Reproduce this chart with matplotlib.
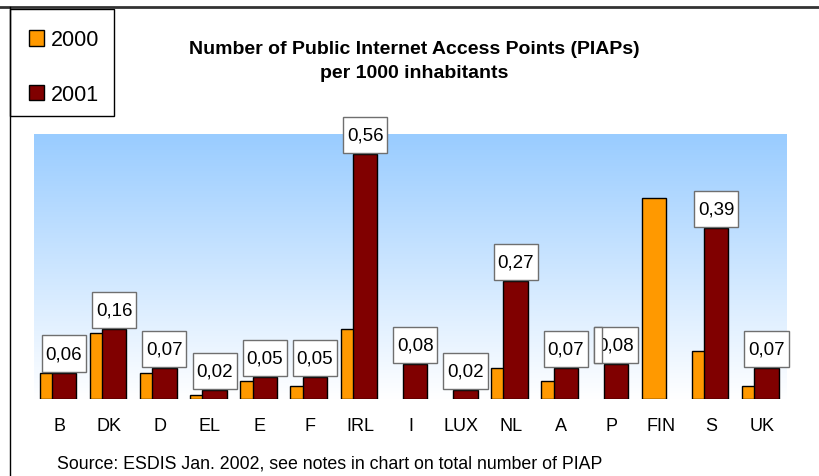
import matplotlib
matplotlib.use("Agg")
import matplotlib.pyplot as plt
import numpy as np
from matplotlib.colors import LinearSegmentedColormap
from matplotlib.lines import Line2D
from matplotlib.patches import Rectangle, Patch
from matplotlib.path import Path

plt.rcParams['font.family'] = ['Liberation Sans', 'DejaVu Sans']

categories = ['B', 'DK', 'D', 'EL', 'E', 'F', 'IRL', 'I', 'LUX', 'NL', 'A', 'P', 'FIN', 'S', 'UK']
values_2000 = [0.06, 0.15, 0.06, 0.01, 0.04, 0.03, 0.16, 0.0, 0.0, 0.07, 0.04, 0.0, 0.46, 0.11, 0.03]
values_2001 = [0.06, 0.16, 0.07, 0.02, 0.05, 0.05, 0.56, 0.08, 0.02, 0.27, 0.07, 0.08, 0.0, 0.39, 0.07]
series_names = ['2000', '2001']
title_lines = ['Number of Public Internet Access Points (PIAPs)', 'per 1000 inhabitants']
source_text = 'Source: ESDIS Jan. 2002, see notes in chart on total number of PIAP'

c2000 = '#FF9900'
c2001 = '#800000'

W, H = 820, 477
fig = plt.figure(figsize=(W / 100, H / 100), dpi=100)
ax = fig.add_axes([34.2 / W, 1 - 400 / H, (786.8 - 34.2) / W, 265 / H])

ytop = 0.6057
x = np.arange(len(categories))
ax.set_xlim(-0.5, len(categories) - 0.5)
ax.set_ylim(0, ytop)

# gradient background
cmap = LinearSegmentedColormap.from_list('bg', ['#FFFFFF', '#99CCFF'])
grad = np.linspace(0, 1, 256).reshape(-1, 1)
ax.imshow(grad, extent=[-0.5, len(categories) - 0.5, 0, ytop], origin='lower',
          aspect='auto', cmap=cmap, zorder=0, interpolation='bicubic')

bw = 0.486
off0, off1 = -0.15, 0.095
v0 = np.array(values_2000)
v1 = np.array(values_2001)
m0 = v0 > 0
m1 = v1 > 0
ax.bar(x[m0] + off0, v0[m0], bw, color=c2000, edgecolor='black', linewidth=1.0, zorder=2)
ax.bar(x[m1] + off1, v1[m1], bw, color=c2001, edgecolor='black', linewidth=1.0, zorder=3)


def label_box(x0, y0, width, height, mutation_size):
    padx = 0.2 * mutation_size
    total_h = 1.93 * mutation_size
    pady = max(0.0, (total_h - height) / 2)
    xa, xb = x0 - padx, x0 + width + padx
    ya, yb = y0 - pady, y0 + height + pady
    return Path([(xa, ya), (xb, ya), (xb, yb), (xa, yb), (xa, ya)], closed=True)


anns = {}
for i, v in enumerate(values_2001):
    if v > 0:
        a = ax.annotate(f"{v:.2f}".replace('.', ','), xy=(x[i] + off1, v), xytext=(0, 13.8),
                        textcoords='offset points', ha='center', va='center', fontsize=13.5,
                        bbox=dict(boxstyle=label_box, fc='white', ec='#6f6f6f', lw=1.0),
                        zorder=5, annotation_clip=False)
        anns[categories[i]] = a

for s in ax.spines.values():
    s.set_visible(False)
ax.set_yticks([])
ax.set_xticks(x)
ax.set_xticklabels(categories, fontsize=13)
ax.tick_params(axis='x', length=0, pad=13)

# title
fig.text(414 / W, 1 - 50 / H, title_lines[0], ha='center', va='center', fontsize=14, fontweight='bold')
fig.text(414 / W, 1 - 74 / H, title_lines[1], ha='center', va='center', fontsize=14, fontweight='bold')

# source
fig.text(57 / W, 1 - 464 / H, source_text, ha='left', va='center', fontsize=12.8)

# legend (frameless) + separate frame box
handles = [Patch(facecolor=c2000, edgecolor='black', linewidth=1.0),
           Patch(facecolor=c2001, edgecolor='black', linewidth=1.0)]
leg = fig.legend(handles, series_names, loc='upper left', bbox_to_anchor=(29 / W, 1 - 30.5 / H),
                 fontsize=15.5, handlelength=0.7, handleheight=0.7, handletextpad=0.3,
                 labelspacing=1.55, borderpad=0, borderaxespad=0, frameon=False)
fig.add_artist(Rectangle((10.5 / W, 1 - 117 / H), 104 / W, 107 / H, transform=fig.transFigure,
                         fill=False, edgecolor='black', lw=1.0))

# frame lines
fig.add_artist(Line2D([0, 1], [1 - 8 / H, 1 - 8 / H], color='#333333', lw=2))
fig.add_artist(Line2D([10.5 / W, 10.5 / W], [0, 1 - 8 / H], color='black', lw=1))

# overlapping label box sliver at P
fig.canvas.draw()
if 'P' in anns:
    bb = anns['P'].get_bbox_patch().get_window_extent()
    r = Rectangle((bb.x0, bb.y0), 8, bb.height, transform=None, facecolor='white',
                  edgecolor='#6f6f6f', lw=1.0, zorder=6)
    fig.add_artist(r)

fig.savefig('out.png', dpi=100)
